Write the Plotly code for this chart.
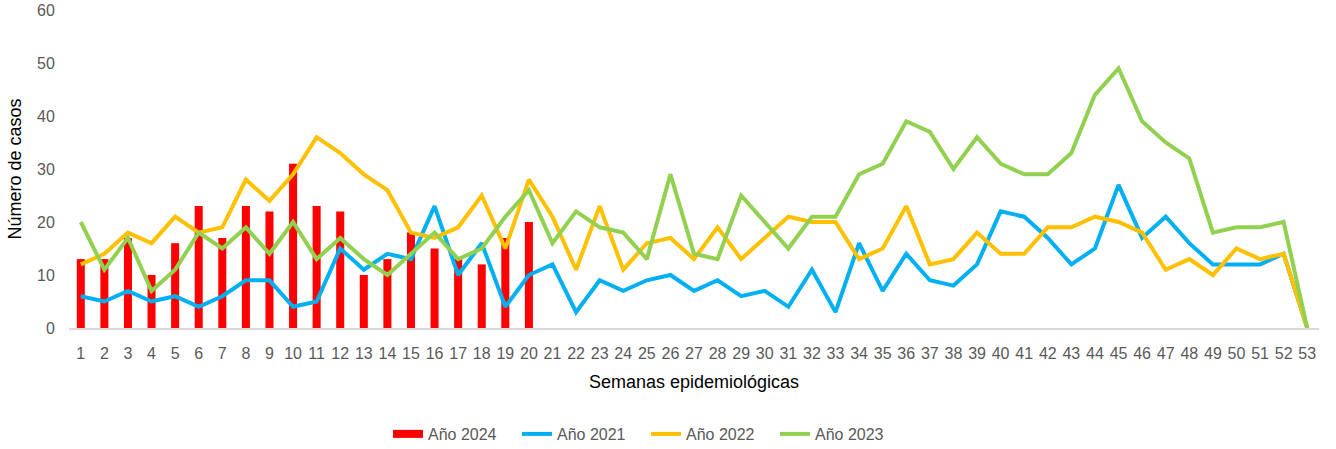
import plotly.graph_objects as go

weeks = [str(i) for i in range(1, 54)]

cases_2024 = [13, 13, 17, 10, 16, 23, 17, 23, 22, 31, 23, 22, 10, 13, 18, 15, 13, 12, 17, 20]

cases_2021 = [6, 5, 7, 5, 6, 4, 6, 9, 9, 4, 5, 15, 11, 14, 13, 23, 10, 16, 4, 10,
              12, 3, 9, 7, 9, 10, 7, 9, 6, 7, 4, 11, 3, 16, 7, 14, 9, 8, 12, 22,
              21, 17, 12, 15, 27, 17, 21, 16, 12, 12, 12, 14, 0]

cases_2022 = [12, 14, 18, 16, 21, 18, 19, 28, 24, 29, 36, 33, 29, 26, 18, 17, 19, 25, 15, 28,
              21, 11, 23, 11, 16, 17, 13, 19, 13, 17, 21, 20, 20, 13, 15, 23, 12, 13, 18, 14,
              14, 19, 19, 21, 20, 18, 11, 13, 10, 15, 13, 14, 0]

cases_2023 = [20, 11, 17, 7, 11, 18, 15, 19, 14, 20, 13, 17, 13, 10, 14, 18, 13, 15, 21, 26,
              16, 22, 19, 18, 13, 29, 14, 13, 25, 20, 15, 21, 21, 29, 31, 39, 37, 30, 36, 31,
              29, 29, 33, 44, 49, 39, 35, 32, 18, 19, 19, 20, 0]

y_ticks = [0, 10, 20, 30, 40, 50, 60]

FONT = "Liberation Sans"
GRAY = "#595959"
RED = "#FF0000"

fig = go.Figure()
fig.add_trace(go.Bar(x=weeks[:len(cases_2024)], y=cases_2024, name="Año 2024",
                     showlegend=False, legendgroup="2024",
                     marker=dict(color=RED, line=dict(width=0))))
# legend entry drawn as a wide red swatch (like the original's rectangle)
fig.add_trace(go.Scatter(x=[None], y=[None], name="Año 2024", mode="lines",
                         legendgroup="2024", line=dict(color=RED, width=8)))
fig.add_trace(go.Scatter(x=weeks, y=cases_2021, name="Año 2021", mode="lines",
                         line=dict(color="#00B0F0", width=4)))
fig.add_trace(go.Scatter(x=weeks, y=cases_2022, name="Año 2022", mode="lines",
                         line=dict(color="#FFC000", width=4)))
fig.add_trace(go.Scatter(x=weeks, y=cases_2023, name="Año 2023", mode="lines",
                         line=dict(color="#92D050", width=4)))

fig.update_layout(
    width=1336, height=449,
    margin=dict(l=69, r=17, t=10, b=121),
    plot_bgcolor="white", paper_bgcolor="white",
    bargap=0.66,
    font=dict(family=FONT, size=16, color=GRAY),
    xaxis=dict(type="category", categoryorder="array", categoryarray=weeks,
               range=[-0.5, 52.5], showgrid=False, showline=True, automargin=False,
               linecolor="#D9D9D9", linewidth=1.5,
               ticks="outside", ticklen=10, tickcolor="rgba(0,0,0,0)",
               tickfont=dict(family=FONT, size=16, color=GRAY),
               title=dict(text="Semanas epidemiológicas", standoff=14,
                          font=dict(family=FONT, size=18, color="black"))),
    yaxis=dict(range=[0, 60], tickvals=y_ticks, showgrid=False, zeroline=False,
               showline=False, automargin=False, ticklabeloverflow="allow",
               ticks="outside", ticklen=10, tickcolor="rgba(0,0,0,0)",
               tickfont=dict(family=FONT, size=16, color=GRAY),
               title=dict(text="Número de casos", standoff=10,
                          font=dict(family=FONT, size=18, color="black"))),
    legend=dict(orientation="h", xref="container", x=388 / 1336, xanchor="left",
                yref="container", y=1 - 434 / 449, yanchor="middle",
                font=dict(family=FONT, size=16, color=GRAY),
                itemwidth=30, entrywidth=84, traceorder="normal"),
)

fig.write_html("out.html", config={"displayModeBar": False},
               post_script="document.body.style.margin='0';document.body.style.overflow='hidden';")
